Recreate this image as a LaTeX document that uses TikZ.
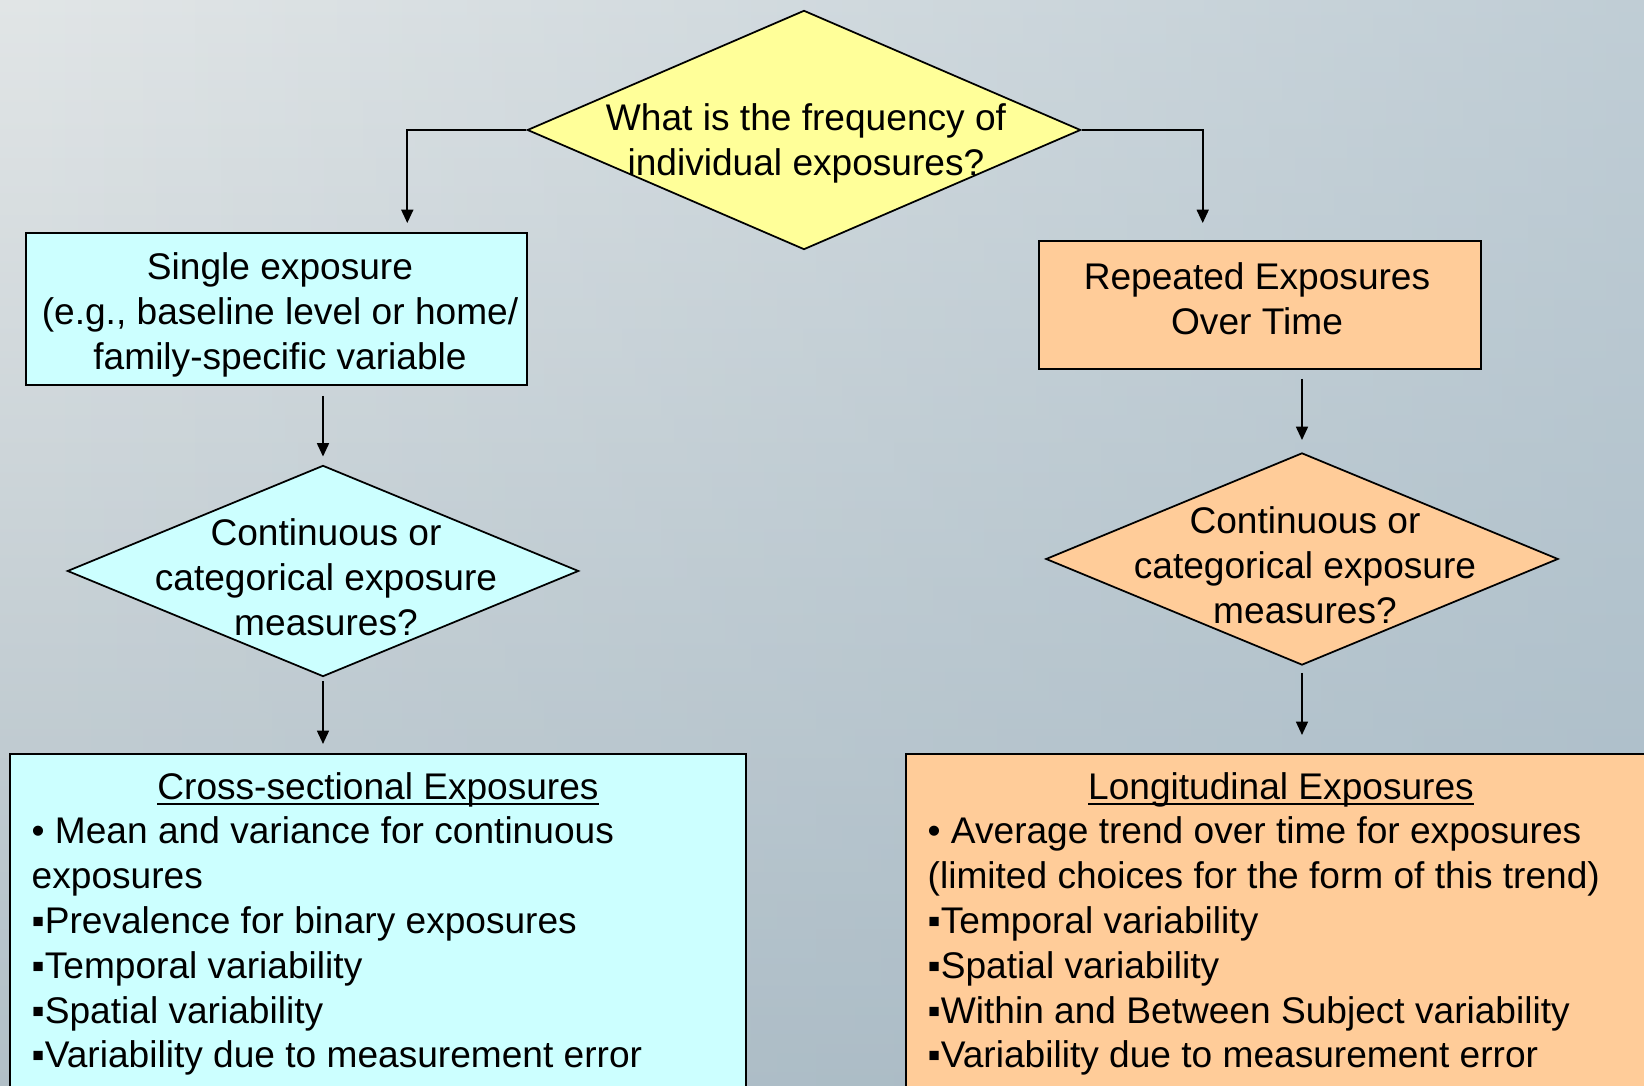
\documentclass[tikz,border=0pt]{standalone}
\usepackage{fontspec}
\setmainfont{Liberation Sans}
\usetikzlibrary{shapes.geometric, arrows.meta, calc, fadings}

\definecolor{bgTop}{RGB}{226, 230, 231}
\definecolor{bgBottom}{RGB}{178, 192, 200}
\definecolor{bgBlue}{RGB}{158, 181, 196}
\definecolor{crossCyan}{RGB}{204, 255, 255}
\definecolor{longOrange}{RGB}{255, 204, 153}
\definecolor{askYellow}{RGB}{255, 255, 153}

\tikzfading[name=fade in right, left color=transparent!100, right color=transparent!0]

% underline that cuts through the descenders
\newcommand{\headline}[1]{\setbox0\hbox{#1}\rlap{\rule[-1.4pt]{\wd0}{0.45pt}}\box0}

\newcommand{\crossLines}{%
    {• Mean and variance for continuous},
    {exposures},
    {▪Prevalence for binary exposures},
    {▪Temporal variability},
    {▪Spatial variability},
    {▪Variability due to measurement error}
}
\newcommand{\longLines}{%
    {• Average trend over time for exposures},
    {(limited choices for the form of this trend)},
    {▪Temporal variability},
    {▪Spatial variability},
    {▪Within and Between Subject variability},
    {▪Variability due to measurement error}
}

\begin{document}
\begin{tikzpicture} [
        x=0.01cm, y=-0.01cm,
        every node/.style={font=\fontsize{10.55}{12.75}\selectfont},
        box/.style={draw, line width=0.5pt, inner sep=0pt},
        decision/.style={diamond, draw, line width=0.5pt, inner sep=0pt},
        question/.style={align=center, inner sep=0pt},
        item/.style={anchor=base west, inner sep=0pt},
        cross/.style={fill=crossCyan},
        long/.style={fill=longOrange},
        ask/.style={fill=askYellow},
        flow/.style={draw, line width=0.5pt, -{Triangle[length=3.8pt, width=3.4pt]}},
    ]

    \useasboundingbox (0,0) rectangle (1644,1086);
    \shade[top color=bgTop, bottom color=bgBottom] (0,0) rectangle (1644,1086);
    \fill[bgBlue, fill opacity=0.5, path fading=fade in right] (0,0) rectangle (1644,1086);
    \clip (0,0) rectangle (1644,1086);

    % first question
    \node[decision, ask, minimum width=5.53cm, minimum height=2.39cm] (frequency) at (804,130) {};
    \node[question] (frequency text) at (806,143.5) {What is the frequency of\\individual exposures?};

    % the two branches
    \node[box, cross, minimum width=5.01cm, minimum height=1.52cm] (single) at (276.5,309) {};
    \node[question] (single text) at (280,315) {Single exposure\\(e.g., baseline level or home/\\family-specific variable};
    \node[box, long, minimum width=4.42cm, minimum height=1.28cm] (repeated) at (1260,305) {};
    \node[question] (repeated text) at (1257,299) {Repeated Exposures\\Over Time};

    \node[decision, cross, minimum width=5.11cm, minimum height=2.11cm] (cross measure) at (323,571) {};
    \node[question] (cross measure text) at (326,577) {Continuous or\\categorical exposure\\measures?};
    \node[decision, long, minimum width=5.12cm, minimum height=2.12cm] (long measure) at (1302,559) {};
    \node[question] (long measure text) at (1305,565) {Continuous or\\categorical exposure\\measures?};

    % summaries
    \node[box, cross, anchor=north, minimum width=7.36cm, minimum height=4cm] (cross section) at (378,753) {};
    \node[box, long, anchor=north, minimum width=7.5cm, minimum height=4cm] (longitudinal) at (1281,753) {};

    \node[item, anchor=base] (cross title) at (378,800) {\headline{Cross-sectional Exposures}};
    \node[item, anchor=base] (long title) at (1281,800) {\headline{Longitudinal Exposures}};

    \foreach \entry [expand list, count=\n from 1] in {\crossLines} {
        \node[item] (cross line \n) at (31, {844+44.8*(\n-1)}) {\entry};
    }
    \foreach \entry [expand list, count=\n from 1] in {\longLines} {
        \node[item] (long line \n) at (927, {844+44.8*(\n-1)}) {\entry};
    }

    % connectors
    \coordinate (single entry) at ($(single.north west)!0.76!(single.north east)$);
    \coordinate (repeated entry) at ($(repeated.north west)!0.371!(repeated.north east)$);
    \draw[flow, shorten >=0.09cm] (frequency.west) -| (single entry);
    \draw[flow, shorten >=0.17cm] (frequency.east) -| (repeated entry);
    \draw[flow, shorten <=0.1cm, shorten >=0.08cm] (single.south -| cross measure.north) -- (cross measure.north);
    \draw[flow, shorten <=0.04cm, shorten >=0.09cm] (cross measure.south) -- (cross section.north -| cross measure.south);
    \draw[flow, shorten <=0.09cm, shorten >=0.12cm] (repeated.south -| long measure.north) -- (long measure.north);
    \draw[flow, shorten <=0.07cm, shorten >=0.18cm] (long measure.south) -- (longitudinal.north -| long measure.south);

\end{tikzpicture}
\end{document}
